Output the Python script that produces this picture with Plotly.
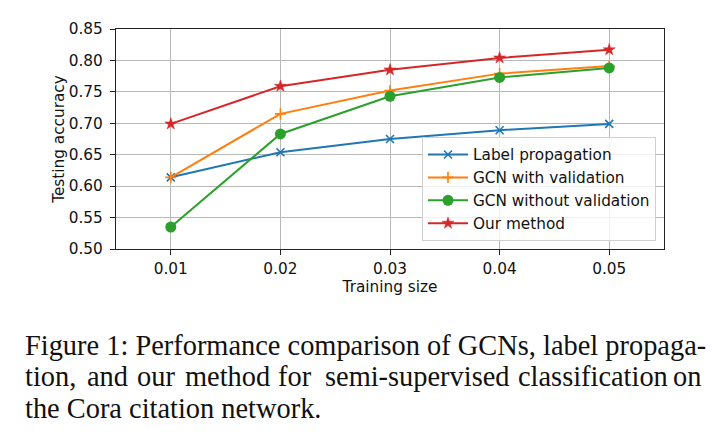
import plotly.graph_objects as go

training_size = [0.01, 0.02, 0.03, 0.04, 0.05]
label_propagation = [0.614, 0.654, 0.675, 0.689, 0.699]
gcn_with_validation = [0.614, 0.715, 0.752, 0.779, 0.791]
gcn_without_validation = [0.535, 0.683, 0.743, 0.773, 0.788]
our_method = [0.699, 0.759, 0.785, 0.804, 0.817]

series_names = ["Label propagation", "GCN with validation", "GCN without validation", "Our method"]
y_ticks = [0.50, 0.55, 0.60, 0.65, 0.70, 0.75, 0.80, 0.85]

caption_line1 = "Figure 1: Performance comparison of GCNs, label propaga-"
caption_line2_words = ["tion,", "and", "our", "method", "for", "semi-supervised", "classification", "on"]
caption_line3 = "the Cora citation network."

# the page body adds an 8px offset; work in page pixels and subtract it
OFF = 8
W, H = 725 - OFF, 436 - OFF
L, R, T, B = 116 - OFF, 664 - OFF, 27 - OFF, 249 - OFF

def px(x):
    return (x - OFF - L) / (R - L)

def py(y):
    return (B - (y - OFF)) / (B - T)

styles = [
    dict(color="#1f77b4", symbol="x-thin", size=8, lw=2, mlw=1.6),
    dict(color="#ff7f0e", symbol="cross-thin", size=8, lw=2, mlw=1.6),
    dict(color="#2ca02c", symbol="circle", size=11, lw=2, mlw=0),
    dict(color="#d62728", symbol="star", size=9, lw=2, mlw=0.5),
]
values = [label_propagation, gcn_with_validation, gcn_without_validation, our_method]

fig = go.Figure()
for name, vals, st in zip(series_names, values, styles):
    fig.add_trace(go.Scatter(
        x=training_size, y=vals, name=name, mode="lines+markers",
        line=dict(color=st["color"], width=st["lw"]),
        marker=dict(symbol=st["symbol"], size=st["size"], color=st["color"],
                    line=dict(color=st["color"], width=st["mlw"])),
    ))

tick_font = dict(family="DejaVu Sans", size=15.3, color="#111")
fig.update_layout(
    width=W, height=H,
    margin=dict(l=L, r=W - R, t=T, b=H - B, pad=0),
    paper_bgcolor="white", plot_bgcolor="white",
    font=dict(family="DejaVu Sans", size=15.3, color="#111"),
    xaxis=dict(
        range=[0.005, 0.055], tickvals=training_size, tickformat=".2f",
        showgrid=True, gridcolor="#b8b8b8", gridwidth=1,
        showline=True, linecolor="#222", linewidth=1.3, mirror=True,
        ticks="outside", ticklen=5, tickcolor="#222", tickfont=tick_font,
        title=dict(text="Training size", font=tick_font, standoff=1),
        zeroline=False,
    ),
    yaxis=dict(
        range=[0.50, 0.85], tickvals=y_ticks, tickformat=".2f",
        showgrid=True, gridcolor="#b8b8b8", gridwidth=1,
        showline=True, linecolor="#222", linewidth=1.3, mirror=True,
        ticks="outside", ticklen=5, tickcolor="#222", tickfont=tick_font,
        ticklabelstandoff=4,
        title=dict(text="Testing accuracy", font=tick_font, standoff=0),
        zeroline=False,
    ),
    legend=dict(
        x=px(656), y=py(241), xanchor="right", yanchor="bottom",
        bgcolor="rgba(255,255,255,0.8)", bordercolor="#d0d0d0", borderwidth=1,
        font=dict(family="DejaVu Sans", size=15.3, color="#111"),
        tracegroupgap=0, itemwidth=40,
    ),
    showlegend=True,
)

cap_font = dict(family="Liberation Serif", size=28.4, color="#111")
fig.add_annotation(text=caption_line1, x=px(23), y=py(346), xref="paper", yref="paper",
                   xanchor="left", yanchor="middle", showarrow=False, font=cap_font)
line2_x = [25, 87, 137, 185, 278, 325, 518, 673]
for w, xx in zip(caption_line2_words, line2_x):
    fig.add_annotation(text=w, x=px(xx - 2), y=py(378), xref="paper", yref="paper",
                       xanchor="left", yanchor="middle", showarrow=False, font=cap_font)
fig.add_annotation(text=caption_line3, x=px(23), y=py(410), xref="paper", yref="paper",
                   xanchor="left", yanchor="middle", showarrow=False, font=cap_font)

fig.write_html("out.html")
